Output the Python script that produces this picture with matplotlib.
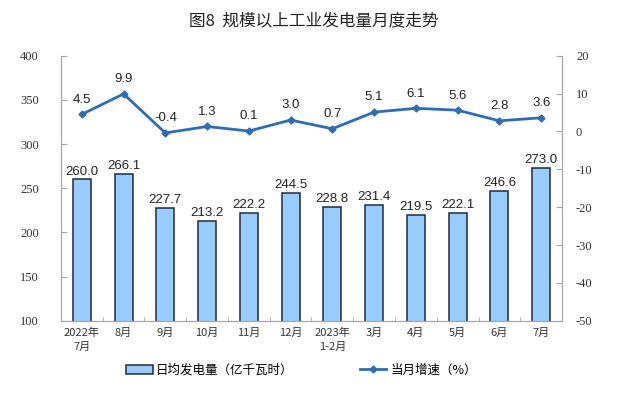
import matplotlib.pyplot as plt
import numpy as np
from matplotlib.patches import Patch
from matplotlib.lines import Line2D

plt.rcParams['font.family'] = ['Noto Sans CJK SC', 'DejaVu Sans']
plt.rcParams['axes.unicode_minus'] = False

months = ['2022年\n7月', '8月', '9月', '10月', '11月', '12月', '2023年\n1-2月',
          '3月', '4月', '5月', '6月', '7月']
daily_output = [260.0, 266.1, 227.7, 213.2, 222.2, 244.5, 228.8, 231.4, 219.5, 222.1, 246.6, 273.0]
growth = [4.5, 9.9, -0.4, 1.3, 0.1, 3.0, 0.7, 5.1, 6.1, 5.6, 2.8, 3.6]

bar_color = '#99ccff'
line_color = '#2e6db4'
grey = '#a6a6a6'

fig = plt.figure(figsize=(6.28, 3.95), dpi=100)
ax = fig.add_axes([0.097, 0.188, 0.798, 0.671])
ax2 = ax.twinx()

x = np.arange(len(months))
ax.bar(x, daily_output, width=0.43, color=bar_color, edgecolor='#1c2b3a', linewidth=1.1, zorder=2)
for xi, v in zip(x, daily_output):
    ax.text(xi, v + 2, f'{v:.1f}', ha='center', va='bottom', fontsize=9.5,
            family='Liberation Sans', color='#222222')

ax2.plot(x, growth, color=line_color, linewidth=2, marker='D', markersize=3.5, zorder=3)
for xi, v in zip(x, growth):
    ax2.text(xi, v + 2.3, f'{v:.1f}', ha='center', va='bottom', fontsize=9.5,
             family='Liberation Sans', color='#222222')

ax.set_xlim(-0.5, len(months) - 0.5)
ax.set_ylim(100, 400)
ax.set_yticks(range(100, 401, 50))
ax2.set_ylim(-50, 20)
ax2.set_yticks(range(-50, 21, 10))

ax.set_xticks(x)
ax.set_xticklabels(months, fontsize=8, color='#333333', linespacing=1.45)
ax.set_xticks(x[:-1] + 0.5, minor=True)
ax.tick_params(axis='x', which='major', length=0, pad=5)
ax.tick_params(axis='x', which='minor', length=3, direction='in', color=grey)

for a in (ax, ax2):
    a.spines['top'].set_visible(False)
    for s in ('left', 'right', 'bottom'):
        a.spines[s].set_color(grey)
        a.spines[s].set_linewidth(0.8)

ax.tick_params(axis='y', direction='in', length=4, color=grey, labelsize=9, labelcolor='#333333', pad=16)
ax2.tick_params(axis='y', direction='in', length=4, color=grey, labelsize=9, labelcolor='#333333', pad=10)
for lab in ax.get_yticklabels() + ax2.get_yticklabels():
    lab.set_family('Liberation Serif')

fig.text(0.5, 0.947, '图8  规模以上工业发电量月度走势', ha='center', va='center', fontsize=12, color='#222222')

handles = [Patch(facecolor=bar_color, edgecolor='#1c2b3a', linewidth=1.1),
           Line2D([0], [0], color=line_color, linewidth=2, marker='D', markersize=3.5)]
fig.legend(handles, ['日均发电量（亿千瓦时）', '当月增速（%）'], loc='center',
           bbox_to_anchor=(0.48, 0.063), ncol=2, frameon=False, fontsize=9,
           columnspacing=5.3, handlelength=2.1, handletextpad=0.3)

fig.savefig('out.png', dpi=100)
